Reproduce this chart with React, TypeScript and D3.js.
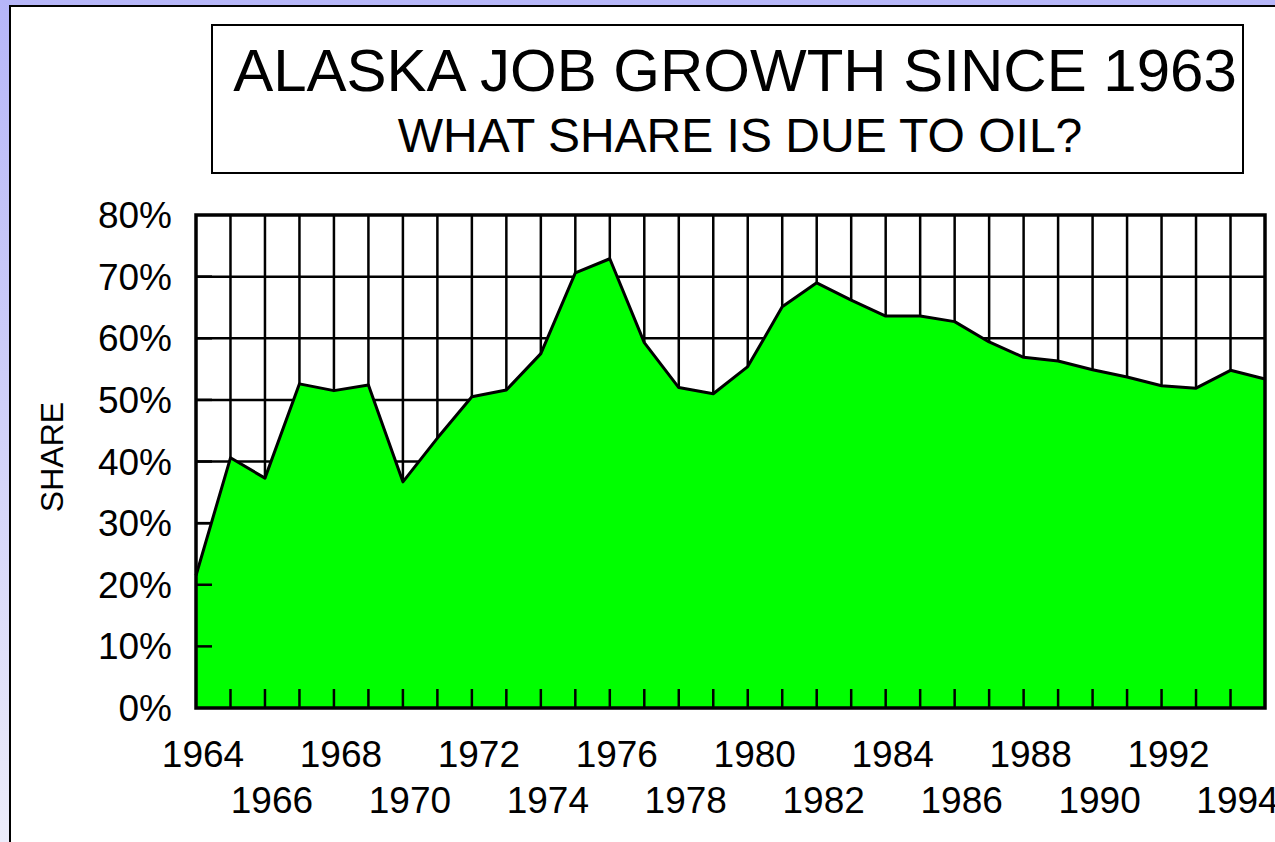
import React, { useRef, useEffect } from 'react'
import { select, scaleLinear, area, line } from 'd3'

// years on the x axis, one point per year
const years = [
  1964, 1965, 1966, 1967, 1968, 1969, 1970, 1971, 1972, 1973, 1974,
  1975, 1976, 1977, 1978, 1979, 1980, 1981, 1982, 1983, 1984, 1985,
  1986, 1987, 1988, 1989, 1990, 1991, 1992, 1993, 1994, 1995
]
// share of job growth due to oil (%)
const share = [
  21.5, 40.6, 37.3, 52.6, 51.5, 52.4, 36.7, 43.8, 50.5, 51.6, 57.5,
  70.6, 72.9, 59.3, 52.0, 51.0, 55.4, 65.1, 69.0, 66.2, 63.6, 63.6,
  62.7, 59.4, 56.9, 56.3, 54.9, 53.7, 52.3, 51.9, 54.8, 53.4
]
const yTicks = [0, 10, 20, 30, 40, 50, 60, 70, 80]
const yearLabels = [1964, 1966, 1968, 1970, 1972, 1974, 1976, 1978, 1980, 1982, 1984, 1986, 1988, 1990, 1992, 1994]

const titleText = 'ALASKA JOB GROWTH SINCE 1963'
const subtitleText = 'WHAT SHARE IS DUE TO OIL?'
const yAxisTitle = 'SHARE'

const FONT = '"Liberation Sans", Arial, sans-serif'

function App() {
  const svgRef = useRef(null)

  useEffect(() => {
    const width = 1275, height = 842
    const plot = { left: 196, right: 1265, top: 215, bottom: 708 }

    const svg = select(svgRef.current)
    svg.selectAll('*').remove()
    svg.attr('width', width).attr('height', height)

    // background gradient
    const grad = svg.append('defs').append('linearGradient')
      .attr('id', 'bg').attr('x1', 0).attr('y1', 0).attr('x2', 0).attr('y2', 1)
    grad.append('stop').attr('offset', '0%').attr('stop-color', '#b6b6f8')
    grad.append('stop').attr('offset', '100%').attr('stop-color', '#ececfa')
    svg.append('rect').attr('width', width).attr('height', height).attr('fill', 'url(#bg)')

    // white panel
    svg.append('rect')
      .attr('x', 10).attr('y', 6).attr('width', width).attr('height', height)
      .attr('fill', '#fff').attr('stroke', '#000').attr('stroke-width', 2)

    // title box
    svg.append('rect')
      .attr('x', 212).attr('y', 25).attr('width', 1031).attr('height', 148)
      .attr('fill', '#fff').attr('stroke', '#000').attr('stroke-width', 2)
    svg.append('text')
      .attr('x', 735).attr('y', 91)
      .attr('text-anchor', 'middle')
      .attr('font-family', FONT).attr('font-size', 60)
      .text(titleText)
    svg.append('text')
      .attr('x', 740).attr('y', 152)
      .attr('text-anchor', 'middle')
      .attr('font-family', FONT).attr('font-size', 48)
      .text(subtitleText)

    const x = scaleLinear().domain([years[0], years[years.length - 1]]).range([plot.left, plot.right])
    const y = scaleLinear().domain([0, 80]).range([plot.bottom, plot.top])

    // grid
    const grid = svg.append('g').attr('stroke', '#000').attr('stroke-width', 2.5)
    grid.selectAll('line.v')
      .data(years.slice(1, -1))
      .join('line')
      .attr('class', 'v')
      .attr('x1', d => x(d)).attr('x2', d => x(d))
      .attr('y1', plot.top).attr('y2', plot.bottom)
    grid.selectAll('line.h')
      .data(yTicks.slice(1, -1))
      .join('line')
      .attr('class', 'h')
      .attr('x1', plot.left).attr('x2', plot.right)
      .attr('y1', d => y(d)).attr('y2', d => y(d))

    // area
    const idx = years.map((_, i) => i)
    const areaGen = area()
      .x(i => x(years[i]))
      .y0(y(0))
      .y1(i => y(share[i]))
    const lineGen = line()
      .x(i => x(years[i]))
      .y(i => y(share[i]))
    svg.append('path').datum(idx).attr('d', areaGen).attr('fill', '#00ff00')
    svg.append('path').datum(idx).attr('d', lineGen)
      .attr('fill', 'none').attr('stroke', '#000').attr('stroke-width', 3)
      .attr('stroke-linejoin', 'round')

    // inner ticks
    const ticks = svg.append('g').attr('stroke', '#000').attr('stroke-width', 2.5)
    ticks.selectAll('line.xt')
      .data(years.slice(1, -1))
      .join('line')
      .attr('class', 'xt')
      .attr('x1', d => x(d)).attr('x2', d => x(d))
      .attr('y1', plot.bottom).attr('y2', plot.bottom - 19)
    ticks.selectAll('line.yt')
      .data(yTicks.slice(1, -1))
      .join('line')
      .attr('class', 'yt')
      .attr('x1', plot.left).attr('x2', plot.left + 16)
      .attr('y1', d => y(d)).attr('y2', d => y(d))

    // frame
    svg.append('rect')
      .attr('x', plot.left).attr('y', plot.top)
      .attr('width', plot.right - plot.left).attr('height', plot.bottom - plot.top)
      .attr('fill', 'none').attr('stroke', '#000').attr('stroke-width', 3.5)

    // y labels
    svg.append('g').selectAll('text')
      .data(yTicks)
      .join('text')
      .attr('x', 172).attr('y', d => y(d) + 13)
      .attr('text-anchor', 'end')
      .attr('font-family', FONT).attr('font-size', 37)
      .text(d => d + '%')

    // x labels, staggered on two rows
    svg.append('g').selectAll('text')
      .data(yearLabels)
      .join('text')
      .attr('x', d => x(d) + 7)
      .attr('y', (d, i) => (i % 2 === 0 ? 767 : 813))
      .attr('text-anchor', 'middle')
      .attr('font-family', FONT).attr('font-size', 37)
      .text(d => d)

    svg.append('text')
      .attr('transform', 'translate(63,457) rotate(-90)')
      .attr('text-anchor', 'middle')
      .attr('font-family', FONT).attr('font-size', 32)
      .text(yAxisTitle)
  }, [])

  return (
    <svg ref={svgRef} style={{ position: 'absolute', left: 0, top: 0, display: 'block' }}></svg>
  )
}

export default App
